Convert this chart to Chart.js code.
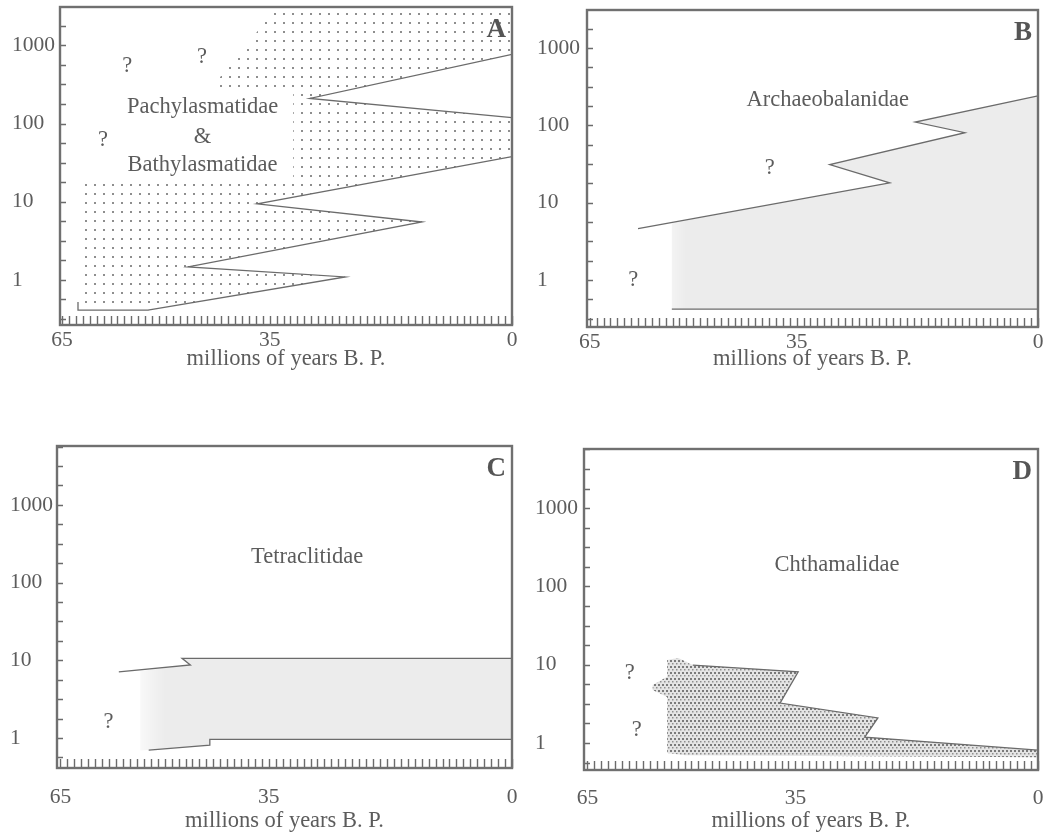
<!DOCTYPE html>
<html><head><meta charset="utf-8">
<script src="https://cdn.jsdelivr.net/npm/chart.js@4.4.1/dist/chart.umd.min.js"></script>
<style>
html,body{margin:0;padding:0;background:#fff;}
body{width:1043px;height:835px;position:relative;overflow:hidden;}
canvas{position:absolute;}
</style></head><body>
<canvas id="cA" width="522" height="380" style="left:0;top:0"></canvas>
<canvas id="cB" width="521" height="380" style="left:522px;top:0"></canvas>
<canvas id="cC" width="522" height="415" style="left:0;top:420px"></canvas>
<canvas id="cD" width="521" height="415" style="left:522px;top:420px"></canvas>
<script>
// ---------------- data ----------------
const xTickLabels = [65, 35, 0];
const yTickLabels = [1, 10, 100, 1000];
const xTitle = 'millions of years B. P.';

// Panel A: Pachylasmatidae & Bathylasmatidae (stippled range)
const aAreaAges = [62.1, 52.6, 24.1, 46.8, 13.0, 36.8, 0, 0, 29.2, 0, 0, 34.5, 36.8, 39.6, 42.2, 42.2, 31.6, 31.6, 62.1];
const aAreaVals = [0.45, 0.41, 1.09, 1.47, 5.5, 9.4, 37.8, 119, 209, 767, 2800, 2800, 1500, 700, 390, 270, 270, 19, 19];
const aLine1Ages = [62.7, 62.7, 52.6, 24.1, 46.8, 13.0, 36.8, 0];
const aLine1Vals = [0.52, 0.41, 0.41, 1.09, 1.47, 5.5, 9.4, 37.8];
const aLine2Ages = [0, 29.2, 0];
const aLine2Vals = [119, 209, 767];

// Panel B: Archaeobalanidae
const bAreaAges = [53.1, 0, 0, 17.8, 10.6, 30.2, 21.5, 53.1];
const bAreaVals = [0.42, 0.42, 240, 110, 80, 31, 18, 5.5];
const bLineAges = [58.0, 21.5, 30.2, 10.6, 17.8, 0];
const bLineVals = [4.6, 18, 31, 80, 110, 240];
const bBaseAges = [53.1, 0];
const bBaseVals = [0.42, 0.42];

// Panel C: Tetraclitidae
const cAreaAges = [53.5, 46.3, 47.5, 0, 0, 43.5, 43.5, 53.5];
const cAreaVals = [7.3, 8.7, 10.6, 10.6, 0.96, 0.96, 0.81, 0.69];
const cUpperAges = [56.6, 46.3, 47.5, 0];
const cUpperVals = [7.1, 8.7, 10.6, 10.6];
const cLowerAges = [52.3, 43.5, 43.5, 0];
const cLowerVals = [0.70, 0.81, 0.96, 0.96];

// Panel D: Chthamalidae
const dAreaAges = [53.5, 51.9, 49.8, 34.6, 37.2, 23.1, 25.0, 0, 0, 50.9, 53.5, 53.5, 55.6, 55.6, 53.5];
const dAreaVals = [11.5, 12.2, 9.9, 8.1, 3.24, 2.09, 1.19, 0.81, 0.66, 0.70, 0.745, 3.87, 4.75, 5.5, 7.0];
const dEdgeAges = [49.8, 34.6, 37.2, 23.1, 25.0, 0];
const dEdgeVals = [9.9, 8.1, 3.24, 2.09, 1.19, 0.81];

// annotations (text placed at data coordinates)
const aNotes = [
  {t: 'Pachylasmatidae', x: 44.7, y: 160},
  {t: '&', x: 44.7, y: 68},
  {t: 'Bathylasmatidae', x: 44.7, y: 29.8},
  {t: '?', x: 55.6, y: 537},
  {t: '?', x: 44.8, y: 702},
  {t: '?', x: 59.1, y: 62}
];
const bNotes = [
  {t: 'Archaeobalanidae', x: 30.5, y: 213},
  {t: '?', x: 38.9, y: 28},
  {t: '?', x: 58.7, y: 1.0}
];
const cNotes = [
  {t: 'Tetraclitidae', x: 29.5, y: 214},
  {t: '?', x: 58.1, y: 1.6}
];
const dNotes = [
  {t: 'Chthamalidae', x: 29.0, y: 188},
  {t: '?', x: 58.9, y: 7.8},
  {t: '?', x: 57.9, y: 1.47}
];

// ---------------- styling helpers ----------------
const FONT = "'Liberation Serif', 'Times New Roman', serif";
const INK = '#5c5c5c';
const LINE = '#6b6b6b';
const TICK_FONT = {family: FONT, size: 21.5};
const TEXT_PX = 22.5;

function pts(ages, vals) { return ages.map((a, i) => ({x: a, y: vals[i]})); }

function sparseDots() {
  const c = document.createElement('canvas'); c.width = 9; c.height = 9;
  const g = c.getContext('2d');
  g.fillStyle = '#8e8e8e'; g.fillRect(4, 4, 2, 2);
  return g.createPattern(c, 'repeat');
}
function denseDots() {
  const c = document.createElement('canvas'); c.width = 8; c.height = 6;
  const g = c.getContext('2d');
  g.fillStyle = '#e4e4e4'; g.fillRect(0, 0, 8, 6);
  g.fillStyle = '#7a7a7a';
  g.fillRect(0, 0, 2, 2); g.fillRect(4, 0, 2, 2);
  g.fillStyle = '#8e8e8e';
  g.fillRect(2, 3, 1.5, 1.5); g.fillRect(6, 3, 1.5, 1.5);
  return g.createPattern(c, 'repeat');
}
function fadeFill(fromAge, toAge) {
  return (ctx) => {
    const ch = ctx.chart;
    if (!ch.chartArea || !ch.scales.x) return 'rgba(0,0,0,0.075)';
    const x0 = ch.scales.x.getPixelForValue(fromAge);
    const x1 = ch.scales.x.getPixelForValue(toAge);
    const g = ch.ctx.createLinearGradient(x0, 0, x1, 0);
    g.addColorStop(0, 'rgba(0,0,0,0)');
    g.addColorStop(1, 'rgba(0,0,0,0.075)');
    return g;
  };
}

function makeDeco(letter, notes) {
  return {
    id: 'panelDeco',
    afterDatasetsDraw(chart) {
      const {ctx, chartArea: a, scales: {x, y}} = chart;
      ctx.save();
      ctx.strokeStyle = LINE;
      ctx.lineWidth = 1.4;
      ctx.beginPath();
      x.ticks.forEach(t => {
        const px = Math.round(x.getPixelForValue(t.value)) + 0.5;
        ctx.moveTo(px, a.bottom); ctx.lineTo(px, a.bottom - 9);
      });
      y.ticks.forEach(t => {
        const py = Math.round(y.getPixelForValue(t.value)) + 0.5;
        ctx.moveTo(a.left, py); ctx.lineTo(a.left + 6, py);
      });
      ctx.stroke();
      ctx.lineWidth = 2.4;
      ctx.strokeStyle = '#707070';
      ctx.strokeRect(a.left, a.top, a.right - a.left, a.bottom - a.top);
      ctx.fillStyle = INK;
      ctx.textAlign = 'center';
      ctx.textBaseline = 'middle';
      ctx.font = TEXT_PX + 'px ' + FONT;
      notes.forEach(n => ctx.fillText(n.t, x.getPixelForValue(n.x), y.getPixelForValue(n.y)));
      ctx.font = 'bold 27px ' + FONT;
      ctx.textAlign = 'right';
      ctx.fillStyle = '#555';
      ctx.fillText(letter, a.right - 6, a.top + 23);
      ctx.restore();
    }
  };
}

function makePanel(id, cfg) {
  const datasets = [];
  cfg.areas.forEach(ar => datasets.push({
    data: pts(ar.ages, ar.vals), showLine: true, fill: 'shape',
    backgroundColor: ar.bg, borderColor: 'rgba(0,0,0,0)', borderWidth: 0,
    pointRadius: 0, tension: 0, order: 2
  }));
  cfg.lines.forEach(ln => datasets.push({
    data: pts(ln.ages, ln.vals), showLine: true, fill: false,
    borderColor: LINE, borderWidth: 1.3, pointRadius: 0, tension: 0, order: 1
  }));
  return new Chart(document.getElementById(id), {
    type: 'scatter',
    data: {datasets},
    options: {
      responsive: false, animation: false, events: [],
      layout: {padding: cfg.pad},
      plugins: {legend: {display: false}, tooltip: {enabled: false}},
      scales: {
        x: {
          type: 'linear', reverse: true, min: 0, max: cfg.xmax,
          grid: {display: false, drawTicks: true, tickLength: cfg.xOff}, border: {display: false},
          ticks: {
            stepSize: 1, autoSkip: false, maxRotation: 0, includeBounds: false,
            padding: 0, color: INK, font: TICK_FONT,
            callback: (v) => xTickLabels.includes(v) ? String(v) : ''
          },
          title: {display: true, text: xTitle, color: INK, font: {family: FONT, size: TEXT_PX},
                  padding: {top: 0, bottom: cfg.tPad}},
          afterFit: (s) => { s.height = cfg.xH; s.paddingLeft = 0; s.paddingRight = 0; }
        },
        y: {
          type: 'logarithmic', min: cfg.ymin, max: cfg.ymax,
          grid: {display: false, drawTicks: false}, border: {display: false},
          ticks: {
            autoSkip: false, crossAlign: 'far', padding: 0, color: INK, font: TICK_FONT,
            callback: (v) => {
              const l = Math.log10(v), r = Math.round(l);
              const d = Math.pow(10, r);
              return (Math.abs(l - r) < 1e-6 && yTickLabels.includes(d)) ? String(d) : '';
            }
          },
          afterBuildTicks: (s) => {
            const t = [];
            for (let k = -8; k <= 16; k++) {
              const v = Math.pow(10, k / 4);
              if (v >= s.min && v <= s.max) t.push({value: v});
            }
            s.ticks = t;
          },
          afterFit: (s) => { s.width = cfg.yW; s.paddingTop = 0; s.paddingBottom = 0; }
        }
      }
    },
    plugins: [makeDeco(cfg.letter, cfg.notes)]
  });
}

makePanel('cA', {
  letter: 'A', notes: aNotes,
  pad: {top: 7, right: 10, left: 12, bottom: 0},
  xmax: 65.3, ymin: 0.265, ymax: 3090, yW: 48, xH: 55, xOff: 2, tPad: 7,
  areas: [{ages: aAreaAges, vals: aAreaVals, bg: sparseDots()}],
  lines: [{ages: aLine1Ages, vals: aLine1Vals}, {ages: aLine2Ages, vals: aLine2Vals}]
});
makePanel('cB', {
  letter: 'B', notes: bNotes,
  pad: {top: 10, right: 5, left: 15, bottom: 0},
  xmax: 65.4, ymin: 0.246, ymax: 3090, yW: 50, xH: 53, xOff: 2, tPad: 7,
  areas: [{ages: bAreaAges, vals: bAreaVals, bg: fadeFill(56.5, 51)}],
  lines: [{ages: bLineAges, vals: bLineVals}, {ages: bBaseAges, vals: bBaseVals}]
});
makePanel('cC', {
  letter: 'C', notes: cNotes,
  pad: {top: 26, right: 10, left: 10, bottom: 0},
  xmax: 65.5, ymin: 0.411, ymax: 5730, yW: 47, xH: 67, xOff: 16, tPad: 0,
  areas: [{ages: cAreaAges, vals: cAreaVals, bg: fadeFill(55.5, 50)}],
  lines: [{ages: cUpperAges, vals: cUpperVals}, {ages: cLowerAges, vals: cLowerVals}]
});
makePanel('cD', {
  letter: 'D', notes: dNotes,
  pad: {top: 29, right: 5, left: 13, bottom: 0},
  xmax: 65.5, ymin: 0.452, ymax: 5690, yW: 49, xH: 65, xOff: 15, tPad: 0,
  areas: [{ages: dAreaAges, vals: dAreaVals, bg: denseDots()}],
  lines: [{ages: dEdgeAges, vals: dEdgeVals}]
});
</script>
</body></html>
